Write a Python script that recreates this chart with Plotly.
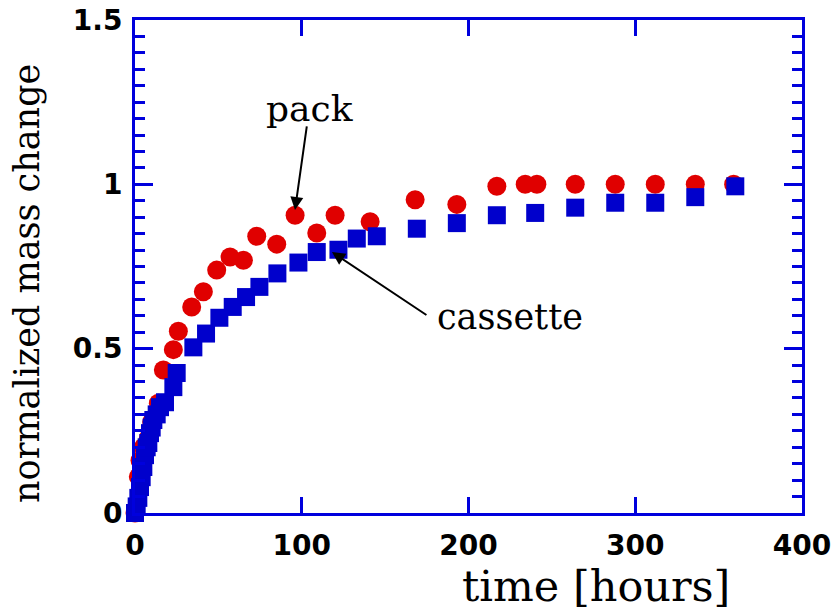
import plotly.graph_objects as go

# pack (red circles)
pack_t = [0, 2, 3, 5, 8, 10, 14, 17, 23, 26, 34, 41, 49, 57, 65, 73, 85, 96, 109, 120, 141,
          168, 193, 217, 234, 241, 264, 288, 312, 336, 359]
pack_m = [0.0, 0.11, 0.16, 0.2, 0.228, 0.277, 0.334, 0.435, 0.497, 0.553, 0.627, 0.673, 0.739,
          0.779, 0.769, 0.842, 0.818, 0.906, 0.852, 0.906, 0.886,
          0.953, 0.939, 0.994, 1.0, 1.0, 1.0, 1.0, 1.0, 1.0, 1.0]

# cassette (blue squares)
cas_t = [0, 1, 2, 3, 4, 5, 6, 7, 8, 9, 10, 11, 13, 15, 18, 23, 25, 35, 42.6, 50.6, 58.6, 66.6,
         74.6, 85.4, 98, 109, 122, 133, 145, 169, 193, 217, 240, 264, 288, 312, 336, 360]
cas_m = [0.0, 0.02, 0.046, 0.079, 0.109, 0.14, 0.176, 0.2, 0.213, 0.243, 0.26, 0.283, 0.3, 0.322,
         0.337, 0.383, 0.426, 0.504, 0.546, 0.594, 0.627, 0.657, 0.688, 0.729, 0.762, 0.794,
         0.801, 0.835, 0.842, 0.865, 0.882, 0.906, 0.913, 0.929, 0.944, 0.944, 0.961, 0.994]

x_ticks = [0, 100, 200, 300, 400]
y_tick_step = 0.5
y_minor_step = 0.05

AX = "#0000dd"
tickfont = dict(family="DejaVu Sans", size=28, color="black", weight="bold")
serif = "DejaVu Serif"

fig = go.Figure()
fig.add_trace(go.Scatter(x=pack_t, y=pack_m, mode="markers", name="pack",
                         marker=dict(symbol="circle", size=19, color="#e00000", line=dict(width=0)),
                         cliponaxis=False))
fig.add_trace(go.Scatter(x=cas_t, y=cas_m, mode="markers", name="cassette",
                         marker=dict(symbol="square", size=18, color="#0000cc", line=dict(width=0)),
                         cliponaxis=False))

fig.update_layout(
    width=834, height=614,
    margin=dict(l=135, r=32, t=20, b=101, autoexpand=False),
    paper_bgcolor="white", plot_bgcolor="white",
    showlegend=False,
    xaxis=dict(range=[0, 400], tickvals=x_ticks, ticktext=[str(v) for v in x_ticks],
               showgrid=False, zeroline=False, showline=True, linecolor=AX, linewidth=3,
               mirror="allticks", ticks="inside", ticklen=16, tickwidth=3, tickcolor=AX,
               tickfont=tickfont, ticklabelstandoff=5, automargin=False),
    yaxis=dict(range=[0, 1.5], tickmode="linear", tick0=0, dtick=y_tick_step,
               showgrid=False, zeroline=False, showline=True, linecolor=AX, linewidth=3,
               mirror="allticks", ticks="inside", ticklen=18, tickwidth=3, tickcolor=AX,
               tickfont=tickfont, ticklabelstandoff=4, automargin=False,
               minor=dict(tickmode="linear", tick0=0, dtick=y_minor_step, ticks="inside",
                          ticklen=10, tickwidth=3, tickcolor=AX, showgrid=False)),
)

fig.add_annotation(x=0.691, y=-0.2005, xref="paper", yref="paper", text="time [hours]",
                   showarrow=False, font=dict(family=serif, size=43, color="black"),
                   xanchor="center", yanchor="bottom", borderpad=0)
fig.add_annotation(x=-0.162, y=0.4665, xref="paper", yref="paper", text="normalized mass change",
                   showarrow=False, font=dict(family=serif, size=35, color="black"),
                   textangle=-90, xanchor="center", yanchor="middle")

ann_font = dict(family=serif, size=36, color="black")
# labels
fig.add_annotation(x=104.9, y=1.232, text="pack", showarrow=False, font=ann_font,
                   xanchor="center", yanchor="middle")
fig.add_annotation(x=224.9, y=0.596, text="cassette", showarrow=False,
                   font=dict(family=serif, size=35, color="black"),
                   xanchor="center", yanchor="middle")
# arrows
fig.add_annotation(x=95.95, y=0.922, ax=12, ay=-85, text="", showarrow=True,
                   arrowhead=2, arrowsize=1.3, arrowwidth=2, arrowcolor="black")
fig.add_annotation(x=118.1, y=0.794, ax=96, ay=64, text="", showarrow=True,
                   arrowhead=2, arrowsize=1.3, arrowwidth=2, arrowcolor="black")

fig.write_html("out.html")
